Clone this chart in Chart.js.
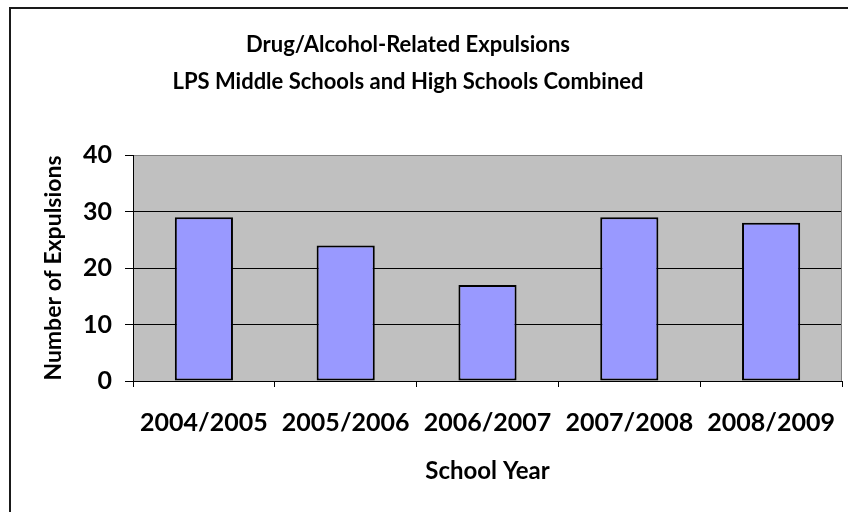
<!DOCTYPE html>
<html>
<head>
<meta charset="utf-8">
<script src="https://cdn.jsdelivr.net/npm/chart.js@4/dist/chart.umd.min.js"></script>
<style>
  html, body { margin: 0; padding: 0; background: #fff; overflow: hidden; }
  #wrap { position: relative; width: 849px; height: 512px; background: #fff; }
  canvas { display: block; }
</style>
</head>
<body>
<div id="wrap"><canvas id="expulsions-chart" width="848" height="512"></canvas></div>
<script>
// dados do gráfico
const schoolYears = ['2004/2005', '2005/2006', '2006/2007', '2007/2008', '2008/2009'];
const expulsions = [29, 24, 17, 29, 28];
const yTicks = [0, 10, 20, 30, 40];
const chartTitle = ['Drug/Alcohol-Related Expulsions', 'LPS Middle Schools and High Schools Combined'];

const fontFamily = 'Lato, "Open Sans", sans-serif';

// fundo cinza da área do gráfico, moldura externa (só esquerda e topo) e título
const framePlugin = {
  id: 'frame',
  beforeDraw(chart) {
    const ctx = chart.ctx;
    const a = chart.chartArea;
    ctx.save();
    ctx.fillStyle = '#1a1a1a';
    ctx.fillRect(9, 7, 2, chart.height - 7);
    ctx.fillRect(9, 7, chart.width - 9, 2);
    ctx.fillStyle = '#c0c0c0';
    ctx.fillRect(a.left, a.top, a.right - a.left, a.bottom - a.top);
    ctx.restore();
  },
  afterDraw(chart) {
    const ctx = chart.ctx;
    const a = chart.chartArea;
    ctx.save();
    // borda direita da área de plotagem
    ctx.fillStyle = '#808080';
    ctx.fillRect(a.right - 1, a.top, 1, a.bottom - a.top);
    // título em duas linhas
    ctx.fillStyle = '#000';
    ctx.font = 'bold 22px ' + fontFamily;
    ctx.textAlign = 'center';
    ctx.textBaseline = 'middle';
    ctx.fillText(chartTitle[0], 408, 45);
    ctx.fillText(chartTitle[1], 408, 82);
    ctx.restore();
  }
};

const ctxChart = document.getElementById('expulsions-chart').getContext('2d');
const expulsionsChart = new Chart(ctxChart, {
  type: 'bar',
  data: {
    labels: schoolYears,
    datasets: [{
      data: expulsions,
      backgroundColor: '#9999ff',
      borderColor: '#000',
      borderWidth: 2,
      borderSkipped: false,
      barPercentage: 0.41,
      categoryPercentage: 1
    }]
  },
  options: {
    responsive: false,
    animation: false,
    layout: { padding: { top: 155, right: 6, left: 0, bottom: 0 } },
    plugins: {
      legend: { display: false },
      title: { display: false },
      tooltip: { enabled: false }
    },
    scales: {
      x: {
        offset: true,
        afterFit(scale) {
          scale.height = 131;
          scale.paddingLeft = 0;
          scale.paddingRight = 0;
        },
        grid: {
          display: true,
          drawOnChartArea: false,
          drawTicks: true,
          tickLength: 6,
          color: '#000'
        },
        border: { display: true, color: '#000', width: 1 },
        ticks: {
          color: '#000',
          padding: 21,
          maxRotation: 0,
          font: { family: fontFamily, size: 25, weight: 'bold' }
        },
        title: {
          display: true,
          text: 'School Year',
          color: '#000',
          padding: { top: 0, bottom: 26 },
          font: { family: fontFamily, size: 24, weight: 'bold' }
        }
      },
      y: {
        min: yTicks[0],
        max: yTicks[yTicks.length - 1],
        afterFit(scale) { scale.width = 133; },
        afterBuildTicks(scale) { scale.ticks = yTicks.map(v => ({ value: v })); },
        grid: {
          color: (c) => (c.tick && c.tick.value === 40 ? '#808080' : '#000'),
          tickColor: '#000',
          tickLength: 8,
          lineWidth: 1
        },
        border: { display: true, color: '#000', width: 1 },
        ticks: {
          color: '#000',
          padding: 13,
          font: { family: fontFamily, size: 25, weight: 'bold' }
        },
        title: {
          display: true,
          text: 'Number of Expulsions',
          color: '#000',
          padding: { top: 40, bottom: 0 },
          font: { family: fontFamily, size: 23, weight: 'bold' }
        }
      }
    }
  },
  plugins: [framePlugin]
});
</script>
</body>
</html>
